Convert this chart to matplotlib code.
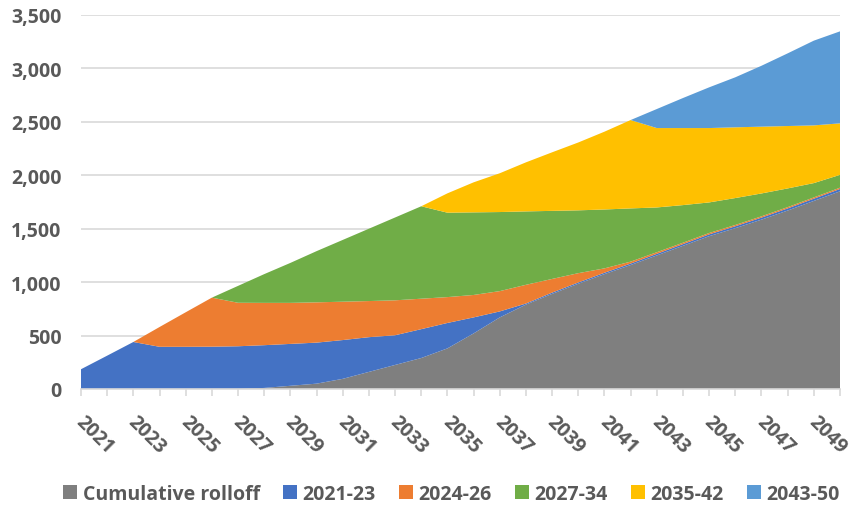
import numpy as np
import matplotlib
matplotlib.use("Agg")
import matplotlib.pyplot as plt
import matplotlib.transforms as mtransforms

plt.rcParams['font.family'] = ['Open Sans', 'DejaVu Sans']

years = list(range(2021, 2051))
labels = ['Cumulative rolloff', '2021-23', '2024-26', '2027-34', '2035-42', '2043-50']
colors = ['#7f7f7f', '#4472c4', '#ed7d31', '#70ad47', '#ffc000', '#5b9bd5']

rolloff = [0, 0, 0, 0, 0, 0, 0, 10, 30, 50, 95, 160, 225, 290, 380,
           520, 670, 790, 890, 985, 1075, 1160, 1250, 1340, 1430, 1505, 1585, 1670, 1760, 1850]
s2021_23 = [185, 312, 440, 395, 395, 396, 400, 400, 392, 384, 363, 325, 278, 270, 238,
            150, 56, 10, 12, 12, 13, 14, 15, 16, 17, 18, 19, 20, 21, 22]
s2024_26 = [0, 0, 0, 185, 323, 459, 407, 396, 384, 377, 359, 338, 327, 285, 242,
            210, 190, 175, 128, 87, 41, 18, 15, 13, 13, 12, 12, 12, 12, 12]
s2027_34 = [0, 0, 0, 0, 0, 0, 158, 269, 374, 479, 578, 677, 775, 865, 790,
            773, 740, 687, 637, 588, 551, 498, 419, 352, 286, 252, 214, 175, 134, 120]
s2035_42 = [0, 0, 0, 0, 0, 0, 0, 0, 0, 0, 0, 0, 0, 0, 181,
            281, 363, 459, 548, 635, 728, 827, 743, 721, 696, 662, 625, 584, 540, 482]
s2043_50 = [0, 0, 0, 0, 0, 0, 0, 0, 0, 0, 0, 0, 0, 0, 0,
            0, 0, 0, 0, 0, 0, 0, 178, 281, 381, 468, 570, 680, 793, 861]

series = [rolloff, s2021_23, s2024_26, s2027_34, s2035_42, s2043_50]

fig = plt.figure(figsize=(8.52, 5.06), dpi=100)
ax = fig.add_axes([81/852, 1-390/506, (840-81)/852, (390-16)/506])

ax.stackplot(years, *series, colors=colors, labels=labels, linewidth=0)

txt = '#595959'
ax.set_xlim(2021, 2050)
ax.set_ylim(0, 3500)
ax.set_yticks(np.arange(0, 3501, 500))
ax.set_yticklabels([f'{v:,}' for v in range(0, 3501, 500)])
ax.yaxis.grid(True, color='#d9d9d9', linewidth=1.2)
ax.set_axisbelow(True)
for s in ['top', 'right', 'left']:
    ax.spines[s].set_visible(False)
ax.spines['bottom'].set_color('#d9d9d9')
ax.spines['bottom'].set_linewidth(1.2)
ax.spines['bottom'].set_zorder(5)

ax.set_xticks(years)
ax.set_xticklabels([str(y) if (y - 2021) % 2 == 0 else '' for y in years],
                   rotation=-45, ha='left', va='top', rotation_mode='anchor')
ax.tick_params(axis='x', length=5, color='#d9d9d9', width=1.2, pad=11, labelsize=14, labelcolor=txt)
ax.tick_params(axis='y', length=0, pad=14, labelsize=14, labelcolor=txt)
shift = mtransforms.ScaledTranslation(5/100, 0, fig.dpi_scale_trans)
for t in ax.get_xticklabels():
    t.set_transform(t.get_transform() + shift)
for t in ax.get_xticklabels() + ax.get_yticklabels():
    t.set_fontweight('bold')

fig.legend(loc='center', bbox_to_anchor=(0.53, 0.022), ncol=6, frameon=False,
           handlelength=0.7, handleheight=0.7, handletextpad=0.3, columnspacing=1.2,
           prop={'size': 14, 'weight': 'bold'}, labelcolor=txt)

fig.savefig('out.png', dpi=100)
